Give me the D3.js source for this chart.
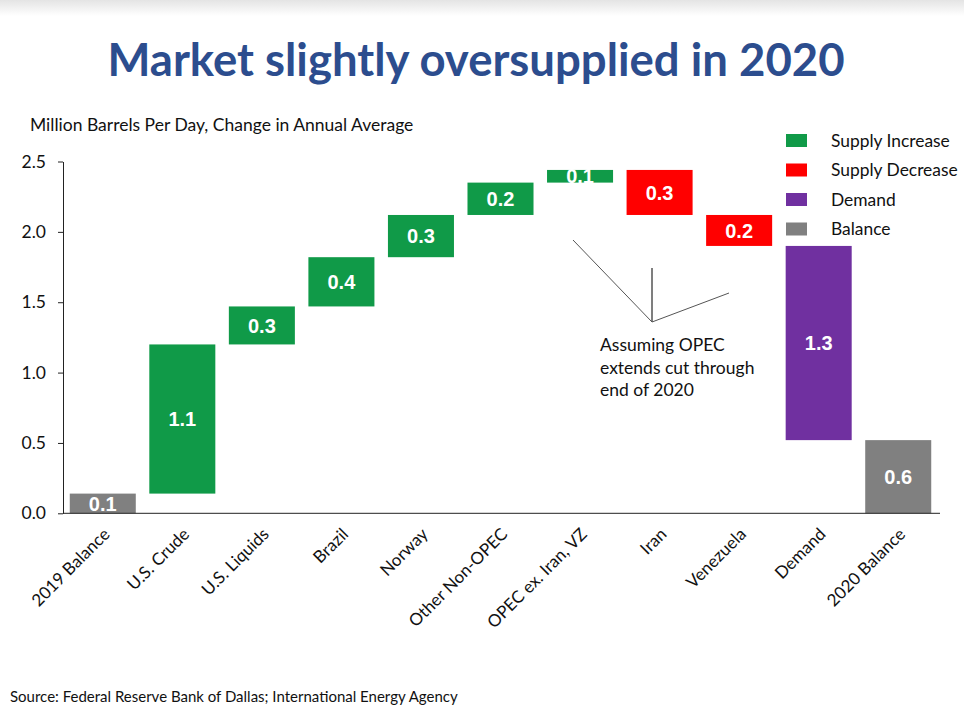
<!DOCTYPE html>
<html><head><meta charset="utf-8">
<script src="https://cdn.jsdelivr.net/npm/d3@7"></script>
<style>body{margin:0;background:#fff}svg{display:block}</style>
</head><body>
<svg id="c" width="964" height="719"></svg>
<script>
const categories = ["2019 Balance","U.S. Crude","U.S. Liquids","Brazil","Norway","Other Non-OPEC","OPEC ex. Iran, VZ","Iran","Venezuela","Demand","2020 Balance"];
const changes = [0.14, 1.06, 0.27, 0.35, 0.30, 0.23, 0.09, -0.32, -0.22, -1.38, null];
const types = ["Balance","Supply Increase","Supply Increase","Supply Increase","Supply Increase","Supply Increase","Supply Increase","Supply Decrease","Supply Decrease","Demand","Balance"];
const valueLabels = ["0.1","1.1","0.3","0.4","0.3","0.2","0.1","0.3","0.2","1.3","0.6"];
const yTicks = [0, 0.5, 1.0, 1.5, 2.0, 2.5];
const legendItems = ["Supply Increase","Supply Decrease","Demand","Balance"];
const colors = {"Supply Increase":"#109A48","Supply Decrease":"#FF0000","Demand":"#7030A0","Balance":"#808080"};
const annotationLines = ["Assuming OPEC","extends cut through","end of 2020"];

const FONT = "Lato, 'Open Sans', sans-serif";
const svg = d3.select("#c");

// top shade
const defs = svg.append("defs");
const g0 = defs.append("linearGradient").attr("id","topg").attr("x1",0).attr("x2",0).attr("y1",0).attr("y2",1);
g0.append("stop").attr("offset","0").attr("stop-color","#e4e4e4");
g0.append("stop").attr("offset","1").attr("stop-color","#ffffff");
svg.append("rect").attr("x",0).attr("y",0).attr("width",964).attr("height",16).attr("fill","url(#topg)");

// compute waterfall
let run = 0;
const bars = categories.map((c,i) => {
  let y0, y1;
  if (i === categories.length - 1) { y0 = 0; y1 = run; }
  else if (i === 0) { y0 = 0; y1 = changes[i]; run = changes[i]; }
  else { y0 = run; y1 = run + changes[i]; run = y1; }
  return {cat:c, lo:Math.min(y0,y1), hi:Math.max(y0,y1), type:types[i], label:valueLabels[i]};
});

const x = d3.scaleBand().domain(categories).range([63, 938]).paddingInner(0.17).paddingOuter(0.085);
const y = d3.scaleLinear().domain([0, 2.5]).range([513.3, 161.5]);

// title
svg.append("text").attr("x", 476).attr("y", 76).attr("text-anchor","middle")
  .attr("font-family", FONT).attr("font-weight","bold").attr("font-size", 45.5)
  .attr("fill","#2C4D8E").text("Market slightly oversupplied in 2020");

// y-axis title
svg.append("text").attr("x", 30).attr("y", 131).attr("font-family", FONT).attr("font-size", 17.5)
  .attr("fill","#111").text("Million Barrels Per Day, Change in Annual Average");

// y axis
const yAxis = d3.axisLeft(y).tickValues(yTicks).tickFormat(d3.format(".1f")).tickSize(5).tickSizeOuter(0);
const ga = svg.append("g").attr("transform","translate(63,0)").call(yAxis);
ga.select(".domain").attr("stroke","#222");
ga.selectAll(".tick line").attr("stroke","#222");
ga.selectAll(".tick text").attr("font-family", FONT).attr("font-size", 17.5).attr("fill","#111").attr("x",-17);

// bars
svg.append("g").selectAll("rect").data(bars).join("rect")
  .attr("x", d => x(d.cat)).attr("width", x.bandwidth())
  .attr("y", d => y(d.hi)).attr("height", d => y(d.lo) - y(d.hi))
  .attr("fill", d => colors[d.type]);

// bar labels (white, clipped visually by white background)
svg.append("g").selectAll("text").data(bars).join("text")
  .attr("x", d => x(d.cat) + x.bandwidth()/2)
  .attr("y", d => (y(d.lo) + y(d.hi))/2)
  .attr("dy","0.36em").attr("text-anchor","middle")
  .attr("font-family","'Liberation Sans', Arial, sans-serif").attr("font-weight","bold").attr("font-size", 20)
  .attr("fill","#fff").text(d => d.label);

// baseline (x axis)
const xAxis = d3.axisBottom(x).tickSize(0).tickSizeOuter(0);
const gx = svg.append("g").attr("transform",`translate(0,${y(0)})`).call(xAxis);
gx.select(".domain").attr("stroke","#222").attr("d", `M63,0H940`);
gx.selectAll(".tick text")
  .attr("font-family", FONT).attr("font-size", 17).attr("fill","#111")
  .attr("text-anchor","end").attr("dy", null).attr("y", 0).attr("x", 0)
  .attr("transform","translate(8,22) rotate(-45)");

// legend
const lg = svg.append("g");
legendItems.forEach((k,i) => {
  const cy = 140.5 + i*29.5;
  lg.append("rect").attr("x", 786).attr("y", cy-6.5).attr("width", 21).attr("height", 13).attr("fill", colors[k]);
  lg.append("text").attr("x", 831).attr("y", cy).attr("dy","0.35em").attr("font-family", FONT).attr("font-size", 17.4)
    .attr("fill","#111").text(k);
});

// annotation
const ap = [[573,240],[652,322],[652,268],[652,322],[729,293]];
svg.append("path").attr("d", d3.line()(ap)).attr("fill","none").attr("stroke","#555").attr("stroke-width",1);
svg.append("g").selectAll("text").data(annotationLines).join("text")
  .attr("x", 600).attr("y", (d,i) => 351 + i*22.5)
  .attr("font-family", FONT).attr("font-size", 17.5).attr("fill","#111").text(d => d);

// source
svg.append("text").attr("x", 10).attr("y", 702).attr("font-family", FONT).attr("font-size", 15)
  .attr("fill","#111").text("Source: Federal Reserve Bank of Dallas; International Energy Agency");
</script>
</body></html>
